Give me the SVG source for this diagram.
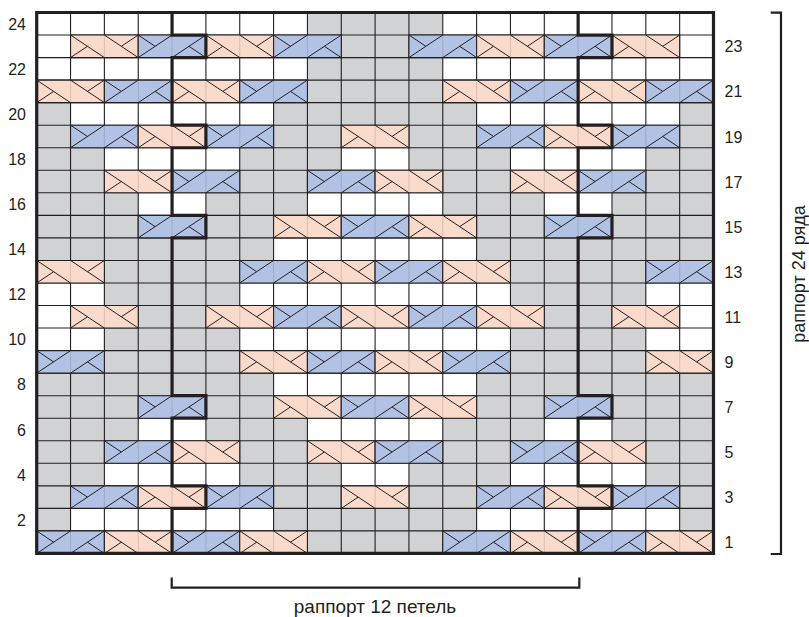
<svg xmlns="http://www.w3.org/2000/svg" width="809" height="617" viewBox="0 0 809 617">
<style>
.g{fill:#d1d2d4}
.ln{fill:none;stroke:#231f20;stroke-width:1.1;vector-effect:non-scaling-stroke}
.pf{fill:#f9dacb;stroke:#231f20;stroke-width:1.1;vector-effect:non-scaling-stroke}
.bf{fill:#b2c2e4;stroke:#231f20;stroke-width:1.1;vector-effect:non-scaling-stroke}
.mid{fill:none;stroke:#231f20;stroke-opacity:0.15;stroke-width:1;vector-effect:non-scaling-stroke}
.dg{fill:none;stroke:#231f20;stroke-width:1;vector-effect:non-scaling-stroke}
.thick{fill:none;stroke:#231f20;stroke-width:3.2;stroke-linejoin:miter;stroke-linecap:square;vector-effect:non-scaling-stroke}
.br{fill:none;stroke:#231f20;stroke-width:2.2}
text{font-family:"Liberation Sans",Arial,sans-serif;fill:#231f20}
.num{font-size:16px}
.cap{font-size:19px}
.cap2{font-size:18px}
</style>
<defs>
<g id="pc"><rect width="2" height="1" class="pf"/><path class="mid" d="M1 0V1"/><path class="dg" d="M0 0L1 1M1 0L2 1M0 1L0.5 0.5M1.5 0.5L2 0"/></g>
<g id="bc"><rect width="2" height="1" class="bf"/><path class="mid" d="M1 0V1"/><path class="dg" d="M0 1L1 0M1 1L2 0M0 0L0.5 0.5M1.5 0.5L2 1"/></g>
</defs>
<rect width="809" height="617" fill="#fff"/>
<g id="chart" transform="translate(36.7,12.5) scale(33.84,22.54)">
<g id="cells">
<rect width="20" height="24" fill="#fff"/>
<rect class="g" x="8" y="0" width="4" height="1"/>
<rect class="g" x="9" y="1" width="2" height="1"/>
<rect class="g" x="8" y="2" width="4" height="1"/>
<rect class="g" x="8" y="3" width="4" height="1"/>
<rect class="g" x="0" y="4" width="1" height="1"/><rect class="g" x="7" y="4" width="6" height="1"/><rect class="g" x="19" y="4" width="1" height="1"/>
<rect class="g" x="0" y="5" width="1" height="1"/><rect class="g" x="7" y="5" width="2" height="1"/><rect class="g" x="11" y="5" width="2" height="1"/><rect class="g" x="19" y="5" width="1" height="1"/>
<rect class="g" x="0" y="6" width="2" height="1"/><rect class="g" x="6" y="6" width="3" height="1"/><rect class="g" x="11" y="6" width="3" height="1"/><rect class="g" x="18" y="6" width="2" height="1"/>
<rect class="g" x="0" y="7" width="2" height="1"/><rect class="g" x="6" y="7" width="2" height="1"/><rect class="g" x="12" y="7" width="2" height="1"/><rect class="g" x="18" y="7" width="2" height="1"/>
<rect class="g" x="0" y="8" width="3" height="1"/><rect class="g" x="5" y="8" width="3" height="1"/><rect class="g" x="12" y="8" width="3" height="1"/><rect class="g" x="17" y="8" width="3" height="1"/>
<rect class="g" x="0" y="9" width="3" height="1"/><rect class="g" x="5" y="9" width="2" height="1"/><rect class="g" x="13" y="9" width="2" height="1"/><rect class="g" x="17" y="9" width="3" height="1"/>
<rect class="g" x="0" y="10" width="7" height="1"/><rect class="g" x="13" y="10" width="7" height="1"/>
<rect class="g" x="2" y="11" width="4" height="1"/><rect class="g" x="14" y="11" width="4" height="1"/>
<rect class="g" x="2" y="12" width="4" height="1"/><rect class="g" x="14" y="12" width="4" height="1"/>
<rect class="g" x="3" y="13" width="2" height="1"/><rect class="g" x="15" y="13" width="2" height="1"/>
<rect class="g" x="2" y="14" width="4" height="1"/><rect class="g" x="14" y="14" width="4" height="1"/>
<rect class="g" x="2" y="15" width="4" height="1"/><rect class="g" x="14" y="15" width="4" height="1"/>
<rect class="g" x="0" y="16" width="7" height="1"/><rect class="g" x="13" y="16" width="7" height="1"/>
<rect class="g" x="0" y="17" width="3" height="1"/><rect class="g" x="5" y="17" width="2" height="1"/><rect class="g" x="13" y="17" width="2" height="1"/><rect class="g" x="17" y="17" width="3" height="1"/>
<rect class="g" x="0" y="18" width="3" height="1"/><rect class="g" x="5" y="18" width="3" height="1"/><rect class="g" x="12" y="18" width="3" height="1"/><rect class="g" x="17" y="18" width="3" height="1"/>
<rect class="g" x="0" y="19" width="2" height="1"/><rect class="g" x="6" y="19" width="2" height="1"/><rect class="g" x="12" y="19" width="2" height="1"/><rect class="g" x="18" y="19" width="2" height="1"/>
<rect class="g" x="0" y="20" width="2" height="1"/><rect class="g" x="6" y="20" width="3" height="1"/><rect class="g" x="11" y="20" width="3" height="1"/><rect class="g" x="18" y="20" width="2" height="1"/>
<rect class="g" x="0" y="21" width="1" height="1"/><rect class="g" x="7" y="21" width="2" height="1"/><rect class="g" x="11" y="21" width="2" height="1"/><rect class="g" x="19" y="21" width="1" height="1"/>
<rect class="g" x="0" y="22" width="1" height="1"/><rect class="g" x="7" y="22" width="6" height="1"/><rect class="g" x="19" y="22" width="1" height="1"/>
<rect class="g" x="8" y="23" width="4" height="1"/>
</g>
<path id="grid" class="ln" d="M0 1H20M0 2H20M0 3H20M0 4H20M0 5H20M0 6H20M0 7H20M0 8H20M0 9H20M0 10H20M0 11H20M0 12H20M0 13H20M0 14H20M0 15H20M0 16H20M0 17H20M0 18H20M0 19H20M0 20H20M0 21H20M0 22H20M0 23H20M1 0V24M2 0V24M3 0V24M4 0V24M5 0V24M6 0V24M7 0V24M8 0V24M9 0V24M10 0V24M11 0V24M12 0V24M13 0V24M14 0V24M15 0V24M16 0V24M17 0V24M18 0V24M19 0V24"/>
<g id="cables">
<use href="#pc" x="1" y="1"/><use href="#bc" x="3" y="1"/><use href="#pc" x="5" y="1"/><use href="#bc" x="7" y="1"/><use href="#bc" x="11" y="1"/><use href="#pc" x="13" y="1"/><use href="#bc" x="15" y="1"/><use href="#pc" x="17" y="1"/>
<use href="#pc" x="0" y="3"/><use href="#bc" x="2" y="3"/><use href="#pc" x="4" y="3"/><use href="#bc" x="6" y="3"/><use href="#pc" x="12" y="3"/><use href="#bc" x="14" y="3"/><use href="#pc" x="16" y="3"/><use href="#bc" x="18" y="3"/>
<use href="#bc" x="1" y="5"/><use href="#pc" x="3" y="5"/><use href="#bc" x="5" y="5"/><use href="#pc" x="9" y="5"/><use href="#bc" x="13" y="5"/><use href="#pc" x="15" y="5"/><use href="#bc" x="17" y="5"/>
<use href="#pc" x="2" y="7"/><use href="#bc" x="4" y="7"/><use href="#bc" x="8" y="7"/><use href="#pc" x="10" y="7"/><use href="#pc" x="14" y="7"/><use href="#bc" x="16" y="7"/>
<use href="#bc" x="3" y="9"/><use href="#pc" x="7" y="9"/><use href="#bc" x="9" y="9"/><use href="#pc" x="11" y="9"/><use href="#bc" x="15" y="9"/>
<use href="#pc" x="0" y="11"/><use href="#bc" x="6" y="11"/><use href="#pc" x="8" y="11"/><use href="#bc" x="10" y="11"/><use href="#pc" x="12" y="11"/><use href="#bc" x="18" y="11"/>
<use href="#pc" x="1" y="13"/><use href="#pc" x="5" y="13"/><use href="#bc" x="7" y="13"/><use href="#pc" x="9" y="13"/><use href="#bc" x="11" y="13"/><use href="#pc" x="13" y="13"/><use href="#pc" x="17" y="13"/>
<use href="#bc" x="0" y="15"/><use href="#pc" x="6" y="15"/><use href="#bc" x="8" y="15"/><use href="#pc" x="10" y="15"/><use href="#bc" x="12" y="15"/><use href="#pc" x="18" y="15"/>
<use href="#bc" x="3" y="17"/><use href="#pc" x="7" y="17"/><use href="#bc" x="9" y="17"/><use href="#pc" x="11" y="17"/><use href="#bc" x="15" y="17"/>
<use href="#bc" x="2" y="19"/><use href="#pc" x="4" y="19"/><use href="#pc" x="8" y="19"/><use href="#bc" x="10" y="19"/><use href="#bc" x="14" y="19"/><use href="#pc" x="16" y="19"/>
<use href="#bc" x="1" y="21"/><use href="#pc" x="3" y="21"/><use href="#bc" x="5" y="21"/><use href="#pc" x="9" y="21"/><use href="#bc" x="13" y="21"/><use href="#pc" x="15" y="21"/><use href="#bc" x="17" y="21"/>
<use href="#bc" x="0" y="23"/><use href="#pc" x="2" y="23"/><use href="#bc" x="4" y="23"/><use href="#pc" x="6" y="23"/><use href="#bc" x="12" y="23"/><use href="#pc" x="14" y="23"/><use href="#bc" x="16" y="23"/><use href="#pc" x="18" y="23"/>
</g>
<g id="repeat-lines">
<path class="thick" d="M4 0V1H5V2H4V5H5V6H4V9H5V10H4V17H5V18H4V21H5V22H4V24"/>
<path class="thick" d="M16 0V1H17V2H16V5H17V6H16V9H17V10H16V17H17V18H16V21H17V22H16V24"/>
</g>
<rect id="border" class="thick" width="20" height="24"/>
</g>
<g id="row-numbers-left" class="num" text-anchor="end">
<text x="26" y="29.8">24</text>
<text x="26" y="74.9">22</text>
<text x="26" y="119.9">20</text>
<text x="26" y="165">18</text>
<text x="26" y="210.1">16</text>
<text x="26" y="255.2">14</text>
<text x="26" y="300.3">12</text>
<text x="26" y="345.3">10</text>
<text x="26" y="390.4">8</text>
<text x="26" y="435.5">6</text>
<text x="26" y="480.6">4</text>
<text x="26" y="525.7">2</text>
</g>
<g id="row-numbers-right" class="num">
<text x="724.5" y="52.3">23</text>
<text x="724.5" y="97.4">21</text>
<text x="724.5" y="142.5">19</text>
<text x="724.5" y="187.6">17</text>
<text x="724.5" y="232.6">15</text>
<text x="724.5" y="277.7">13</text>
<text x="724.5" y="322.8">11</text>
<text x="724.5" y="367.9">9</text>
<text x="724.5" y="413">7</text>
<text x="724.5" y="458">5</text>
<text x="724.5" y="503.1">3</text>
<text x="724.5" y="548.2">1</text>
</g>
<g id="repeat-stitches">
<path class="br" d="M171.7 577.5V587.7H579.3V577.5"/>
<text class="cap" x="375" y="612.5" text-anchor="middle">раппорт 12 петель</text>
</g>
<g id="repeat-rows">
<path class="br" d="M770.7 12.7H781V554H770.7"/>
<text class="cap2" transform="translate(805,274) rotate(-90)" text-anchor="middle">раппорт 24 ряда</text>
</g>
</svg>
